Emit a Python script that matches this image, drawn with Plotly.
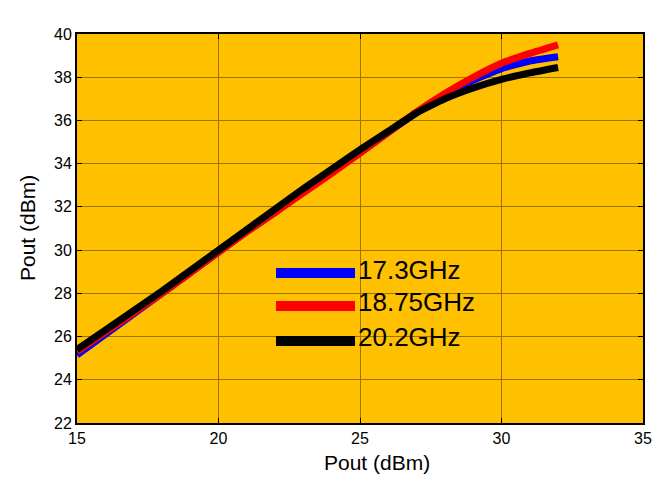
import plotly.graph_objects as go

pin = [15, 16, 17, 18, 19, 20, 21, 22, 23, 24, 25, 26, 27, 28, 29, 30, 31, 32]
p_17_3 = [25.15, 26.1, 27.05, 28.0, 28.95, 29.9, 30.85, 31.75, 32.7, 33.6, 34.5, 35.45, 36.35, 37.15, 37.85, 38.4, 38.75, 38.95]
p_18_75 = [25.3, 26.2, 27.1, 28.0, 28.95, 29.9, 30.85, 31.75, 32.65, 33.55, 34.5, 35.45, 36.4, 37.25, 38.0, 38.65, 39.1, 39.5]
p_20_2 = [25.4, 26.3, 27.2, 28.1, 29.05, 30.0, 30.95, 31.9, 32.85, 33.75, 34.65, 35.5, 36.35, 37.0, 37.5, 37.9, 38.2, 38.45]

names = ["17.3GHz", "18.75GHz", "20.2GHz"]
colors = ["#0000FF", "#FF0000", "#000000"]
series = [p_17_3, p_18_75, p_20_2]

BG = "#FFC000"
GRID = "#9A7400"
FONT = "Liberation Sans, Arial, sans-serif"

fig = go.Figure()
for n, c, s in zip(names, colors, series):
    fig.add_trace(go.Scatter(x=pin, y=s, name=n, mode="lines",
                             line=dict(color=c, width=7, shape="spline", smoothing=0.4),
                             showlegend=False))

OFF = 8  # page body margin
W, H = 662 - OFF, 487 - OFF
L, R, T, B = 77 - OFF, 19, 34 - OFF, 64
pw, ph = W - L - R, H - T - B

def px(x):
    return (x - OFF - L) / pw

def py(y):
    return (H - B - (y - OFF)) / ph

shapes = [dict(type="rect", xref="paper", yref="paper",
               x0=px(337), x1=px(522), y0=py(376), y1=py(242),
               fillcolor=BG, line=dict(width=0), layer="between")]
annotations = []
leg_y_line = [273, 306, 341]
leg_y_text = [270, 302, 337]
for n, c, yl, yt in zip(names, colors, leg_y_line, leg_y_text):
    shapes.append(dict(type="line", xref="paper", yref="paper",
                       x0=px(276), x1=px(355), y0=py(yl), y1=py(yl),
                       line=dict(color=c, width=10), layer="above"))
    annotations.append(dict(xref="paper", yref="paper", x=px(356), y=py(yt),
                            text=n, showarrow=False, xanchor="left", yanchor="middle",
                            font=dict(size=26, color="black", family=FONT)))

annotations.append(dict(xref="paper", yref="paper", x=px(377), y=py(463),
                        text="Pout (dBm)", showarrow=False, xanchor="center", yanchor="middle",
                        font=dict(size=21, color="black", family=FONT)))
annotations.append(dict(xref="paper", yref="paper", x=px(27), y=py(228),
                        text="Pout (dBm)", showarrow=False, xanchor="center", yanchor="middle",
                        textangle=-90, font=dict(size=21, color="black", family=FONT)))

axis_common = dict(showgrid=True, gridcolor=GRID, gridwidth=1, zeroline=False,
                   showline=True, linecolor="black", linewidth=2, mirror="ticks",
                   ticks="inside", ticklen=5, tickcolor="black", tickwidth=1,
                   automargin=False,
                   tickfont=dict(size=16, color="black", family=FONT))

fig.update_layout(
    width=W, height=H,
    margin=dict(l=L, r=R, t=T, b=B, autoexpand=False),
    paper_bgcolor="white", plot_bgcolor=BG,
    shapes=shapes, annotations=annotations,
    xaxis=dict(range=[15, 35], dtick=5, **axis_common),
    yaxis=dict(range=[22, 40], dtick=2, **axis_common),
    font=dict(family=FONT),
)

fig.write_html("out.html")
